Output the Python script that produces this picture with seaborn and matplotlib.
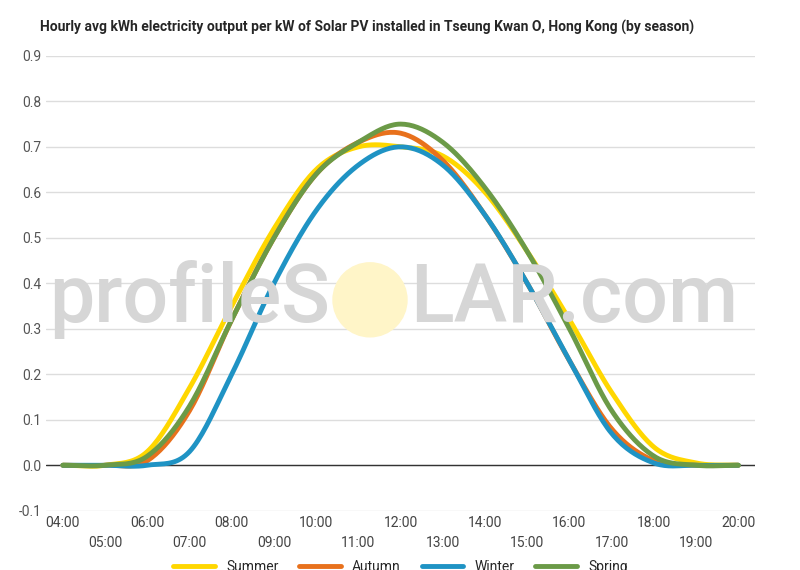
import numpy as np
import pandas as pd
import matplotlib
matplotlib.use("Agg")
import matplotlib.pyplot as plt
import seaborn as sns

hours = list(range(4, 21))
summer = [0, 0, 0.03, 0.17, 0.35, 0.52, 0.65, 0.70, 0.70, 0.68, 0.60, 0.47, 0.32, 0.16, 0.04, 0.005, 0]
autumn = [0, 0, 0.01, 0.12, 0.32, 0.50, 0.64, 0.71, 0.73, 0.67, 0.55, 0.40, 0.23, 0.08, 0.01, 0, 0]
winter = [0, 0, 0, 0.03, 0.20, 0.40, 0.56, 0.66, 0.70, 0.66, 0.55, 0.40, 0.23, 0.07, 0.005, 0, 0]
spring = [0, 0, 0.02, 0.13, 0.32, 0.50, 0.64, 0.71, 0.75, 0.71, 0.61, 0.47, 0.30, 0.12, 0.02, 0, 0]
series = {"Summer": summer, "Autumn": autumn, "Winter": winter, "Spring": spring}
colors = {"Summer": "#FFD700", "Autumn": "#E8711C", "Winter": "#1F93C4", "Spring": "#6B9A47"}

def smooth(x, y, n=20):
    x = np.asarray(x, float); y = np.asarray(y, float)
    m = np.gradient(y, x)
    xs, ys = [], []
    for i in range(len(x) - 1):
        t = np.linspace(0, 1, n, endpoint=False)
        h = x[i+1] - x[i]
        h00 = 2*t**3 - 3*t**2 + 1; h10 = t**3 - 2*t**2 + t
        h01 = -2*t**3 + 3*t**2; h11 = t**3 - t**2
        xs.append(x[i] + t*h)
        ys.append(h00*y[i] + h10*h*m[i] + h01*y[i+1] + h11*h*m[i+1])
    xs.append([x[-1]]); ys.append([y[-1]])
    return np.concatenate(xs), np.concatenate(ys)

rows = []
for name, vals in series.items():
    xs, ys = smooth(hours, vals)
    rows += [{"hour": a, "kwh": b, "season": name} for a, b in zip(xs, ys)]
df = pd.DataFrame(rows)

sns.set_theme(style="white")
plt.rcParams["font.family"] = ["Roboto", "DejaVu Sans"]
fig, ax = plt.subplots(figsize=(8, 5.7), dpi=100)
fig.subplots_adjust(left=0.0575, right=0.944, top=0.902, bottom=0.104)
ax.patch.set_alpha(0)

fig.text(0.4125, 0.474, "profileS", fontsize=58, fontweight="medium", color="#d6d6d6",
         ha="right", va="center", zorder=0)
fig.text(0.5125, 0.474, "LAR.com", fontsize=58, fontweight="medium", color="#d6d6d6",
         ha="left", va="center", zorder=0)
fig.patches.append(matplotlib.patches.Ellipse((0.4625, 0.474), 74/800, 74/570,
                   transform=fig.transFigure, color="#FFF5C8", zorder=0))

sns.lineplot(data=df, x="hour", y="kwh", hue="season", palette=colors, linewidth=3.5,
             ax=ax, sort=False, estimator=None)
ax.axhline(0, color="#333333", lw=1, zorder=1)
ax.set_ylim(-0.1, 0.9)
ax.set_xlim(3.6, 20.4)
ax.set_yticks(np.arange(-0.1, 0.91, 0.1))
ax.set_yticklabels([f"{v:.1f}" for v in np.arange(-0.1, 0.91, 0.1)], color="#555555", fontsize=10)
ax.grid(axis="y", color="#dddddd")
ax.set_xticks(hours[::2])
ax.set_xticklabels([f"{h:02d}:00" for h in hours[::2]], color="#444444", fontsize=10)
ax.set_xticks(hours[1::2], minor=True)
ax.set_xticklabels([f"{h:02d}:00" for h in hours[1::2]], minor=True, color="#444444", fontsize=10)
ax.tick_params(axis="x", which="minor", pad=18, length=0)
ax.tick_params(axis="x", which="major", length=0)
ax.tick_params(axis="y", length=0)
for s in ax.spines.values():
    s.set_visible(False)
ax.set_xlabel(""); ax.set_ylabel("")
ax.legend(loc="upper center", bbox_to_anchor=(0.5, -0.08), ncol=4, frameon=False,
          fontsize=10, handlelength=3, columnspacing=1.5)
fig.text(0.05, 0.952, "Hourly avg kWh electricity output per kW of Solar PV installed in Tseung Kwan O, Hong Kong (by season)",
         fontsize=10, fontweight="bold", ha="left", va="center")
fig.savefig("out.png", dpi=100)
